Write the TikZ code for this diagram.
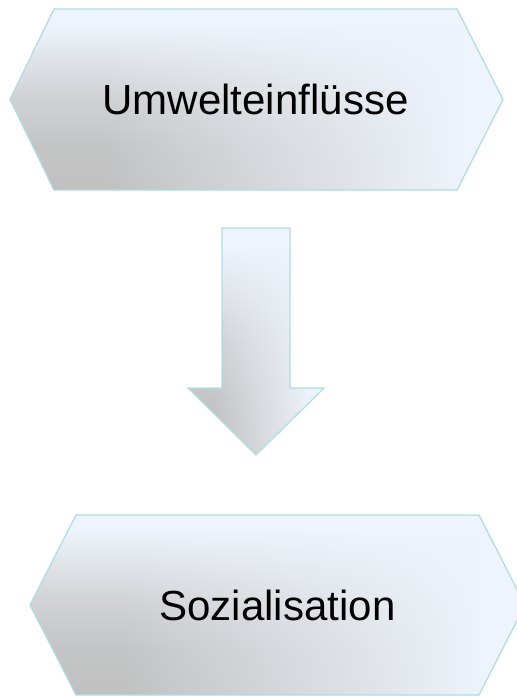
\documentclass[tikz,border=0pt]{standalone}
\usepackage{fontspec}
\setmainfont{Liberation Sans}
\usetikzlibrary{fadings}
\definecolor{lite}{RGB}{238,244,252}
\definecolor{grayc}{RGB}{192,192,192}
\definecolor{edgec}{RGB}{176,222,228}
\colorlet{gmidA}{grayc!92!lite}
\colorlet{gmidB}{grayc!68!lite}
\pgfdeclareverticalshading{vsh}{100bp}{color(0bp)=(grayc); color(25bp)=(grayc); color(37bp)=(gmidA); color(50bp)=(gmidB); color(71bp)=(lite); color(100bp)=(lite)}
\pgfdeclarehorizontalshading{hfadsh}{100bp}{color(0bp)=(black); color(34bp)=(black); color(71bp)=(white); color(100bp)=(white)}
\pgfdeclarefading{lightright}{\pgfuseshading{hfadsh}}
\newcommand\gshapefill[1]{%
  \shade[shading=vsh] #1;%
  \fill[lite, path fading=lightright] #1;%
  \draw[edgec, line width=1.3bp, line join=miter] #1;%
}
\begin{document}
\begin{tikzpicture}[x=1bp, y=-1bp,
  lbl/.style={font=\fontsize{42.2}{50}\selectfont, inner sep=0pt, text=black}]
\useasboundingbox (0,0) rectangle (517,696);
% top hexagon
\gshapefill{(54,9) -- (457,9) -- (503,99.5) -- (457,190) -- (54,190) -- (10,99.5) -- cycle}
% arrow
\gshapefill{(222,228) -- (290,228) -- (290,388) -- (324,388) -- (256,455) -- (188,388) -- (222,388) -- cycle}
% bottom hexagon
\gshapefill{(76,515) -- (479,515) -- (525,605) -- (479,695) -- (76,695) -- (30,605) -- cycle}
\node[lbl, anchor=base] (t1) at (255.5,115) {Umwelteinflüsse};
\node[lbl, anchor=base] (t2) at (277.5,620) {Sozialisation};
\end{tikzpicture}
\end{document}
